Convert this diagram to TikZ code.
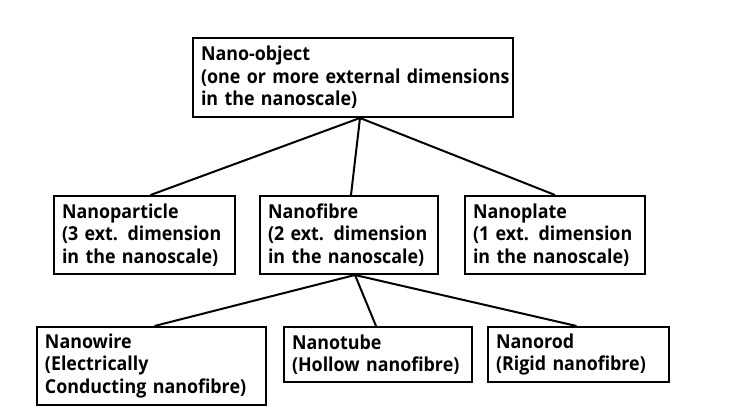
\documentclass[tikz,border=0pt]{standalone}
\usepackage{fontspec}
\setmainfont{Open Sans}[FakeStretch=0.93]
\usetikzlibrary{calc}
\tikzset{
  box/.style={draw, line width=2pt, rectangle, anchor=north west, align=left,
    inner xsep=8pt, inner ysep=0pt,
    font=\fontsize{19.2}{22.5}\selectfont\bfseries},
  link/.style={line width=2pt},
}
\begin{document}
\begin{tikzpicture}[x=1pt,y=-1pt]
\useasboundingbox[fill=white] (0,0) rectangle (745,419);
\node[box, text width=304pt, minimum height=79pt] (top) at (192,37)
  {Nano-object\\\mbox{(one or more external dimensions}\\in the nanoscale)};
\node[box, text width=165pt, minimum height=78pt] (np) at (53,195)
  {Nanoparticle\\\mbox{(3 ext. dimension}\\\mbox{in the nanoscale)}};
\node[box, text width=162pt, minimum height=78pt] (nf) at (259,195)
  {Nanofibre\\\mbox{(2 ext. dimension}\\\mbox{in the nanoscale)}};
\node[box, text width=164pt, minimum height=78pt] (npl) at (464,195)
  {Nanoplate\\\mbox{(1 ext. dimension}\\\mbox{in the nanoscale)}};
\node[box, text width=213pt, minimum height=78pt] (nw) at (36,326)
  {Nanowire\\(Electrically\\\mbox{Conducting nanofibre)}};
\node[box, text width=172pt, minimum height=55pt] (nt) at (283,326)
  {Nanotube\\\mbox{(Hollow nanofibre)}};
\node[box, text width=165pt, minimum height=55pt] (nr) at (487,326)
  {Nanorod\\\mbox{(Rigid nanofibre)}};
\coordinate (tb) at ($(top.south west)+(168,0)$);
\coordinate (fb) at ($(nf.south west)+(96,0)$);
\draw[link] (tb) -- ($(np.north)+(6,0)$);
\draw[link] (tb) -- ($(nf.north)+(2,0)$);
\draw[link] (tb) -- (npl.north);
\draw[link] (fb) -- ($(nw.north)+(3,0)$);
\draw[link] (fb) -- ($(nt.north)+(-2,0)$);
\draw[link] (fb) -- ($(nr.north)+(-2,0)$);
\end{tikzpicture}
\end{document}
